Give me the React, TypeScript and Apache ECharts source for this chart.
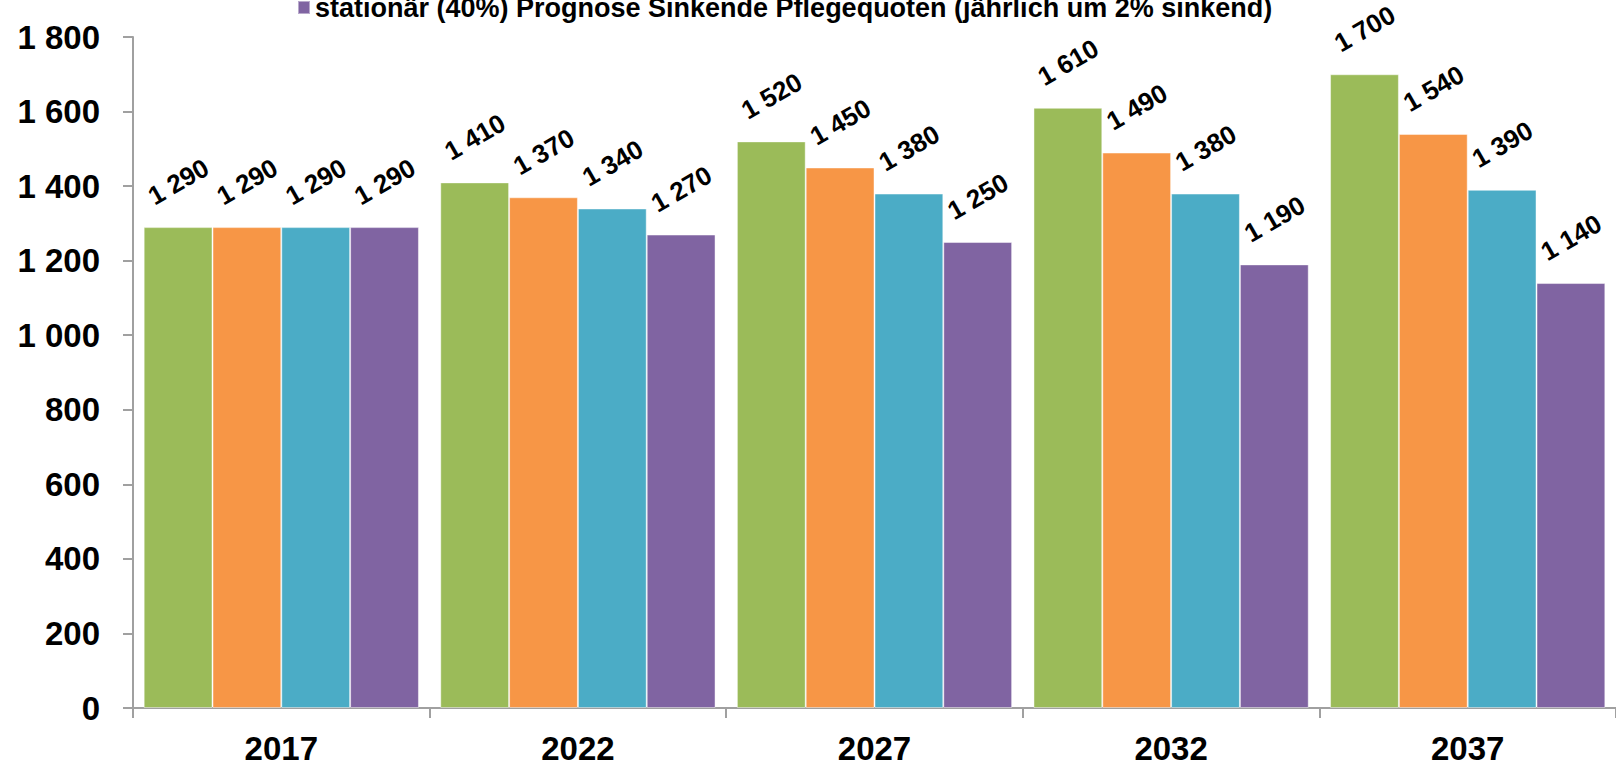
import React, { useEffect, useRef } from "react";
import * as echarts from "echarts";

const categories = ["2017", "2022", "2027", "2032", "2037"];
const seriesNames = [
  "stationär (40%) Prognose Status Quo",
  "stationär (40%) Prognose Steigende Pflegequoten",
  "stationär (40%) Prognose Konstante Pflegequoten",
  "stationär (40%) Prognose Sinkende Pflegequoten (jährlich um 2% sinkend)",
];
const seriesA = [1290, 1410, 1520, 1610, 1700];
const seriesB = [1290, 1370, 1450, 1490, 1540];
const seriesC = [1290, 1340, 1380, 1380, 1390];
const seriesD = [1290, 1270, 1250, 1190, 1140];
const colors = ["#9BBB59", "#F79646", "#4BACC6", "#8064A2"];

const fmt = (v: number) => {
  const s = String(Math.round(v));
  return s.replace(/\B(?=(\d{3})+(?!\d))/g, " ");
};

export default function App() {
  const ref = useRef<HTMLDivElement>(null);
  useEffect(() => {
    if (!ref.current) return;
    const chart = echarts.init(ref.current, null, { renderer: "svg" });
    const allData = [seriesA, seriesB, seriesC, seriesD];
    chart.setOption({
      animation: false,
      textStyle: { fontFamily: "Liberation Sans, Arial, sans-serif" },
      legend: {
        data: [seriesNames[3]],
        left: 297,
        top: -6,
        padding: 0,
        itemWidth: 12,
        itemHeight: 13,
        itemGap: 5,
        icon: "rect",
        textStyle: {
          fontSize: 27,
          fontWeight: "bold",
          color: "#000",
          fontFamily: "Liberation Sans, Arial, sans-serif",
        },
      },
      grid: { left: 133, right: -4, top: 37, bottom: 58, containLabel: false },
      xAxis: {
        type: "category",
        data: categories,
        axisLine: { lineStyle: { color: "#A0A0A0", width: 2 } },
        axisTick: { show: true, length: 10, lineStyle: { color: "#A0A0A0", width: 2 } },
        axisLabel: {
          fontSize: 33,
          fontWeight: "bold",
          color: "#000",
          margin: 24,
        },
      },
      yAxis: {
        type: "value",
        min: 0,
        max: 1800,
        interval: 200,
        axisLine: { show: true, lineStyle: { color: "#A0A0A0", width: 2 } },
        axisTick: { show: true, length: 10, lineStyle: { color: "#A0A0A0", width: 2 } },
        splitLine: { show: false },
        axisLabel: {
          fontSize: 33,
          fontWeight: "bold",
          color: "#000",
          margin: 33,
          formatter: (v: number) => fmt(v),
        },
      },
      series: allData.map((d, i) => ({
        name: seriesNames[i],
        type: "bar",
        data: d,
        barGap: "0%",
        barCategoryGap: "7.2%",
        itemStyle: {
          color: colors[i],
          borderColor: "rgba(255,255,255,0.45)",
          borderWidth: 1,
        },
        label: {
          show: true,
          position: [13, -18],
          rotate: 30,
          align: "left",
          verticalAlign: "bottom",
          fontSize: 26,
          fontWeight: "bold",
          color: "#000",
          formatter: (p: any) => fmt(p.value),
        },
      })),
    });
    return () => chart.dispose();
  }, []);
  return (
    <div
      ref={ref}
      style={{ position: "absolute", left: 0, top: 0, width: 1616, height: 766 }}
    />
  );
}
